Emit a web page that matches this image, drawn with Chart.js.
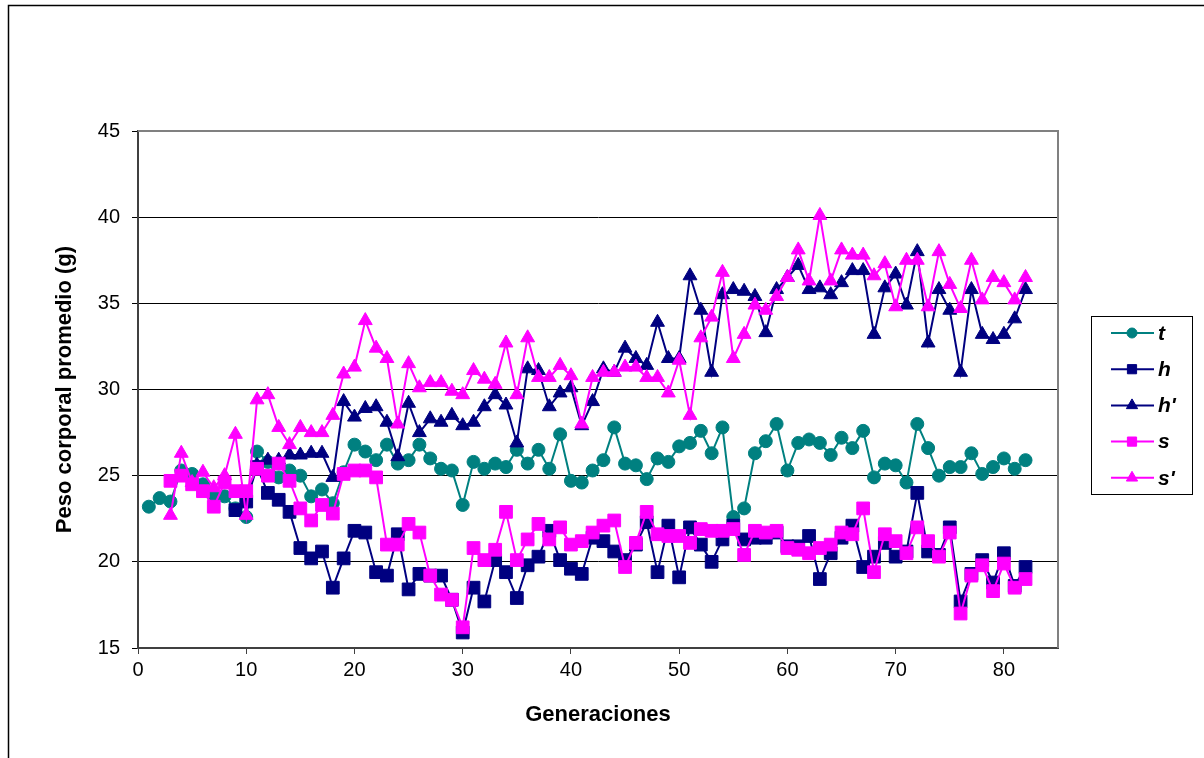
<!DOCTYPE html>
<html>
<head>
<meta charset="utf-8">
<script src="https://cdn.jsdelivr.net/npm/chart.js@4.4.1/dist/chart.umd.min.js"></script>
<style>
  html, body { margin: 0; padding: 0; background: #fff; }
  #wrap { width: 1204px; height: 758px; }
</style>
</head>
<body>
<div id="wrap"><canvas id="myChart" width="1204" height="758"></canvas></div>
<script>
// Generaciones (eje x)
const generations = [1, 2, 3, 4, 5, 6, 7, 8, 9, 10, 11, 12, 13, 14, 15, 16, 17, 18, 19, 20,
  21, 22, 23, 24, 25, 26, 27, 28, 29, 30, 31, 32, 33, 34, 35, 36, 37, 38, 39, 40,
  41, 42, 43, 44, 45, 46, 47, 48, 49, 50, 51, 52, 53, 54, 55, 56, 57, 58, 59, 60,
  61, 62, 63, 64, 65, 66, 67, 68, 69, 70, 71, 72, 73, 74, 75, 76, 77, 78, 79, 80,
  81, 82];

const xTicks = [0, 10, 20, 30, 40, 50, 60, 70, 80];
const yTicks = [15, 20, 25, 30, 35, 40, 45];
const seriesNames = ['t', 'h', "h'", 's', "s'"];

// Peso corporal promedio (g) por serie
const tValues = [23.2, 23.7, 23.5, 25.3, 25.1, 24.5, 23.8, 23.8, 23.1, 22.6,
  26.4, 25.8, 24.9, 25.3, 25.0, 23.8, 24.2, 23.4, 25.2, 26.8,
  26.4, 25.9, 26.8, 25.7, 25.9, 26.8, 26.0, 25.4, 25.3, 23.3,
  25.8, 25.4, 25.7, 25.5, 26.5, 25.7, 26.5, 25.4, 27.4, 24.7,
  24.6, 25.3, 25.9, 27.8, 25.7, 25.6, 24.8, 26.0, 25.8, 26.7,
  26.9, 27.6, 26.3, 27.8, 22.6, 23.1, 26.3, 27.0, 28.0, 25.3,
  26.9, 27.1, 26.9, 26.2, 27.2, 26.6, 27.6, 24.9, 25.7, 25.6,
  24.6, 28.0, 26.6, 25.0, 25.5, 25.5, 26.3, 25.1, 25.5, 26.0,
  25.4, 25.9];

const hValues = [null, null, null, null, null, null, null, null, 23.0, 23.5,
  25.5, 24.0, 23.6, 22.9, 20.8, 20.2, 20.6, 18.5, 20.2, 21.8,
  21.7, 19.4, 19.2, 21.6, 18.4, 19.3, 19.2, 19.2, 17.8, 15.9,
  18.5, 17.7, 20.1, 19.4, 17.9, 19.8, 20.3, 21.8, 20.1, 19.6,
  19.3, 21.4, 21.2, 20.6, 20.1, 21.0, 22.3, 19.4, 22.1, 19.1,
  22.0, 21.0, 20.0, 21.3, 22.1, 21.3, 21.4, 21.4, 21.7, 20.9,
  20.9, 21.5, 19.0, 20.5, 21.4, 22.1, 19.7, 20.3, 21.1, 20.3,
  20.6, 24.0, 20.6, 20.4, 22.0, 17.7, 19.3, 20.1, 18.8, 20.5,
  18.6, 19.7];

const hPrimeValues = [null, null, null, null, null, null, null, null, null, null,
  25.6, 25.9, 25.9, 26.2, 26.2, 26.3, 26.3, 24.9, 29.3, 28.4,
  28.9, 29.0, 28.1, 26.1, 29.2, 27.5, 28.3, 28.1, 28.5, 27.9,
  28.1, 29.0, 29.7, 29.1, 26.9, 31.2, 31.1, 29.0, 29.8, 30.1,
  27.9, 29.3, 31.2, 31.0, 32.4, 31.8, 31.4, 33.9, 31.8, 31.8,
  36.6, 34.6, 31.0, 35.5, 35.8, 35.7, 35.4, 33.3, 35.8, 36.5,
  37.2, 35.8, 35.9, 35.5, 36.2, 36.9, 36.9, 33.2, 35.9, 36.7,
  34.9, 38.0, 32.7, 35.8, 34.6, 31.0, 35.8, 33.2, 32.9, 33.2,
  34.1, 35.8];

const sValues = [null, null, 24.7, 25.0, 24.5, 24.1, 23.2, 24.6, 24.1, 24.1,
  25.4, 25.0, 25.7, 24.7, 23.1, 22.4, 23.3, 22.8, 25.1, 25.3,
  25.3, 24.9, 21.0, 21.0, 22.2, 21.7, 19.2, 18.1, 17.8, 16.2,
  20.8, 20.1, 20.7, 22.9, 20.1, 21.3, 22.2, 21.3, 22.0, 21.0,
  21.2, 21.7, 22.1, 22.4, 19.7, 21.1, 22.9, 21.6, 21.5, 21.5,
  21.1, 21.9, 21.8, 21.8, 21.9, 20.4, 21.8, 21.7, 21.8, 20.8,
  20.7, 20.5, 20.8, 21.0, 21.7, 21.6, 23.1, 19.4, 21.6, 21.2,
  20.5, 22.0, 21.2, 20.3, 21.7, 17.0, 19.2, 19.8, 18.3, 19.9,
  18.5, 19.0];

const sPrimeValues = [null, null, 22.7, 26.3, 24.6, 25.2, 24.3, 25.0, 27.4, 22.7,
  29.4, 29.7, 27.8, 26.8, 27.8, 27.5, 27.5, 28.5, 30.9, 31.3,
  34.0, 32.4, 31.8, 28.0, 31.5, 30.1, 30.4, 30.4, 29.9, 29.7,
  31.1, 30.6, 30.3, 32.7, 29.7, 33.0, 30.7, 30.7, 31.4, 30.8,
  28.0, 30.7, 31.0, 31.0, 31.3, 31.3, 30.7, 30.7, 29.8, 31.7,
  28.5, 33.0, 34.2, 36.8, 31.8, 33.2, 34.9, 34.6, 35.4, 36.5,
  38.1, 36.3, 40.1, 36.3, 38.1, 37.8, 37.8, 36.6, 37.3, 34.8,
  37.5, 37.5, 34.8, 38.0, 36.1, 34.7, 37.5, 35.2, 36.5, 36.2,
  35.2, 36.5];

const TEAL = '#008080';
const NAVY = '#000080';
const MAGENTA = '#FF00FF';
const FONT = '"Liberation Sans", Arial, sans-serif';

function toPoints(values) {
    return generations.map((g, i) => ({ x: g, y: values[i] }));
}

function makeSeries(label, values, color, style, radius, order) {
    return {
        label: label,
        data: toPoints(values),
        borderColor: color,
        backgroundColor: color,
        borderWidth: 2,
        pointStyle: style,
        pointRadius: radius,
        pointHoverRadius: radius,
        pointBorderWidth: 1,
        spanGaps: false,
        tension: 0,
        order: order
    };
}

const datasets = [
    makeSeries(seriesNames[0], tValues, TEAL, 'circle', 6.5, 5),
    makeSeries(seriesNames[1], hValues, NAVY, 'rect', 9, 4),
    makeSeries(seriesNames[2], hPrimeValues, NAVY, 'triangle', 8, 3),
    makeSeries(seriesNames[3], sValues, MAGENTA, 'rect', 9, 2),
    makeSeries(seriesNames[4], sPrimeValues, MAGENTA, 'triangle', 8, 1)
];

// Marco exterior, borde del área de trazado y leyenda en recuadro
const framePlugin = {
    id: 'frame',
    afterDraw(chart) {
        const ctx = chart.ctx;
        const area = chart.chartArea;
        ctx.save();
        // outer frame
        ctx.strokeStyle = '#000';
        ctx.lineWidth = 1.5;
        ctx.beginPath();
        ctx.moveTo(8.5, 758);
        ctx.lineTo(8.5, 5.5);
        ctx.lineTo(1204, 5.5);
        ctx.stroke();
        // plot area top/right border
        ctx.strokeStyle = '#808080';
        ctx.lineWidth = 2;
        ctx.beginPath();
        ctx.moveTo(area.left, area.top);
        ctx.lineTo(area.right, area.top);
        ctx.lineTo(area.right, area.bottom);
        ctx.stroke();

        // legend box
        const bx = 1091.5, by = 316.5, bw = 101, bh = 178;
        ctx.strokeStyle = '#000';
        ctx.lineWidth = 1;
        ctx.fillStyle = '#fff';
        ctx.fillRect(bx, by, bw, bh);
        ctx.strokeRect(bx, by, bw, bh);
        chart.data.datasets.forEach((ds, i) => {
            const y = 333 + i * 36.2;
            ctx.strokeStyle = ds.borderColor;
            ctx.lineWidth = 2;
            ctx.beginPath();
            ctx.moveTo(1111, y);
            ctx.lineTo(1154, y);
            ctx.stroke();
            ctx.fillStyle = ds.backgroundColor;
            ctx.strokeStyle = ds.borderColor;
            ctx.lineWidth = 1;
            Chart.helpers.drawPoint(ctx, {
                pointStyle: ds.pointStyle,
                rotation: 0,
                borderWidth: 1,
                radius: ds.pointStyle === 'circle' ? 5 : 6.5
            }, 1132, y);
            ctx.fillStyle = '#000';
            ctx.font = 'italic bold 21px ' + FONT;
            ctx.textBaseline = 'middle';
            ctx.textAlign = 'left';
            ctx.fillText(ds.label, 1158, y + 1);
        });
        ctx.restore();
    }
};

const ctx = document.getElementById('myChart').getContext('2d');
const myChart = new Chart(ctx, {
    type: 'line',
    data: { datasets: datasets },
    options: {
        responsive: false,
        animation: false,
        events: [],
        layout: { padding: { top: 131, right: 146, left: 0, bottom: 0 } },
        plugins: {
            legend: { display: false },
            tooltip: { enabled: false }
        },
        scales: {
            x: {
                type: 'linear',
                min: 0,
                max: 85,
                afterBuildTicks: scale => { scale.ticks = xTicks.map(v => ({ value: v })); },
                afterFit: scale => { scale.height = 110; },
                grid: { drawOnChartArea: false, color: '#404040', tickLength: 6, lineWidth: 1 },
                border: { color: '#404040', width: 2 },
                ticks: { color: '#000', font: { family: FONT, size: 20 }, padding: 4, maxRotation: 0 },
                title: {
                    display: true,
                    text: 'Generaciones',
                    color: '#000',
                    font: { family: FONT, size: 22, weight: 'bold' },
                    padding: { top: 0, bottom: 30 }
                }
            },
            y: {
                min: 15,
                max: 45,
                afterBuildTicks: scale => { scale.ticks = yTicks.map(v => ({ value: v })); },
                afterFit: scale => { scale.width = 138; },
                grid: { color: '#000', tickLength: 6, lineWidth: 1 },
                border: { color: '#404040', width: 2 },
                ticks: { color: '#000', font: { family: FONT, size: 20 }, padding: 12 },
                title: {
                    display: true,
                    text: 'Peso corporal promedio (g)',
                    color: '#000',
                    font: { family: FONT, size: 22, weight: 'bold' },
                    padding: { top: 52, bottom: 0 }
                }
            }
        }
    },
    plugins: [framePlugin]
});
</script>
</body>
</html>
